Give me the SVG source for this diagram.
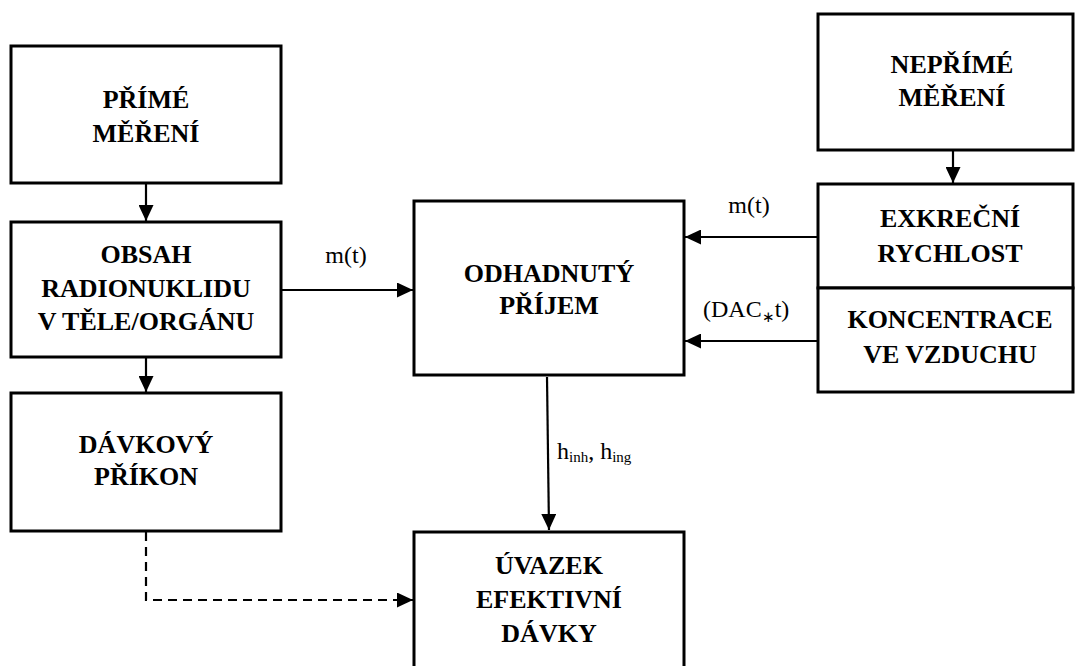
<svg xmlns="http://www.w3.org/2000/svg" width="1075" height="666" viewBox="0 0 1075 666">
<defs>
<marker id="ah" markerUnits="userSpaceOnUse" markerWidth="17" markerHeight="15" refX="16" refY="7.5" orient="auto">
<path d="M0,0 L16,7.5 L0,15 Z" fill="#000"/>
</marker>
</defs>
<g id="connectors" stroke="#000" stroke-width="2.2" fill="none">
<line x1="146" y1="184" x2="146" y2="221" marker-end="url(#ah)"/>
<line x1="146" y1="358" x2="146" y2="392" marker-end="url(#ah)"/>
<line x1="282" y1="290" x2="413" y2="290" marker-end="url(#ah)"/>
<line x1="953" y1="151" x2="953" y2="183" marker-end="url(#ah)"/>
<line x1="817" y1="237" x2="685" y2="237" marker-end="url(#ah)"/>
<line x1="817" y1="341" x2="685" y2="341" marker-end="url(#ah)"/>
<line x1="547" y1="377" x2="549" y2="530" marker-end="url(#ah)"/>
<polyline stroke-dasharray="9 6" points="146,532 146,600 413,600" marker-end="url(#ah)"/>
</g>
<g id="labels" font-family="Liberation Serif" font-size="24" fill="#000">
<text x="346" y="263" text-anchor="middle">m(t)</text>
<text x="749" y="213" text-anchor="middle">m(t)</text>
<text x="703" y="317">(DAC<tspan font-size="15" dy="5">∗</tspan><tspan dy="-5">t)</tspan></text>
<text x="557" y="459">h<tspan font-size="15" dy="3">inh</tspan><tspan dy="-3">, h</tspan><tspan font-size="15" dy="3">ing</tspan></text>
</g>
<g id="prime" font-family="Liberation Serif" font-weight="bold" font-size="26" text-anchor="middle">
<rect x="11" y="46" width="270" height="137" fill="#fff" stroke="#000" stroke-width="3"/>
<text x="146" y="108">PŘÍMÉ</text>
<text x="146" y="142">MĚŘENÍ</text>
</g>
<g id="obsah" font-family="Liberation Serif" font-weight="bold" font-size="26" text-anchor="middle">
<rect x="11" y="222" width="270" height="135" fill="#fff" stroke="#000" stroke-width="3"/>
<text x="146" y="263">OBSAH</text>
<text x="146" y="297">RADIONUKLIDU</text>
<text x="146" y="330">V TĚLE/ORGÁNU</text>
</g>
<g id="davkovy" font-family="Liberation Serif" font-weight="bold" font-size="26" text-anchor="middle">
<rect x="11" y="393" width="270" height="138" fill="#fff" stroke="#000" stroke-width="3"/>
<text x="146" y="453">DÁVKOVÝ</text>
<text x="146" y="485">PŘÍKON</text>
</g>
<g id="odhadnuty" font-family="Liberation Serif" font-weight="bold" font-size="26" text-anchor="middle">
<rect x="414" y="201" width="270" height="174" fill="#fff" stroke="#000" stroke-width="3"/>
<text x="549" y="282">ODHADNUTÝ</text>
<text x="549" y="314">PŘÍJEM</text>
</g>
<g id="uvazek" font-family="Liberation Serif" font-weight="bold" font-size="26" text-anchor="middle">
<rect x="414" y="532" width="270" height="140" fill="#fff" stroke="#000" stroke-width="3"/>
<text x="549" y="574">ÚVAZEK</text>
<text x="549" y="608">EFEKTIVNÍ</text>
<text x="549" y="642">DÁVKY</text>
</g>
<g id="neprime" font-family="Liberation Serif" font-weight="bold" font-size="26" text-anchor="middle">
<rect x="818" y="14" width="255" height="136" fill="#fff" stroke="#000" stroke-width="3"/>
<text x="952" y="73">NEPŘÍMÉ</text>
<text x="952" y="106">MĚŘENÍ</text>
</g>
<g id="exkrecni" font-family="Liberation Serif" font-weight="bold" font-size="26" text-anchor="middle">
<rect x="818" y="184" width="255" height="104" fill="#fff" stroke="#000" stroke-width="3"/>
<text x="950" y="227">EXKREČNÍ</text>
<text x="950" y="262">RYCHLOST</text>
</g>
<g id="koncentrace" font-family="Liberation Serif" font-weight="bold" font-size="26" text-anchor="middle">
<rect x="818" y="288" width="255" height="104" fill="#fff" stroke="#000" stroke-width="3"/>
<text x="950" y="328">KONCENTRACE</text>
<text x="950" y="363">VE VZDUCHU</text>
</g>
</svg>
